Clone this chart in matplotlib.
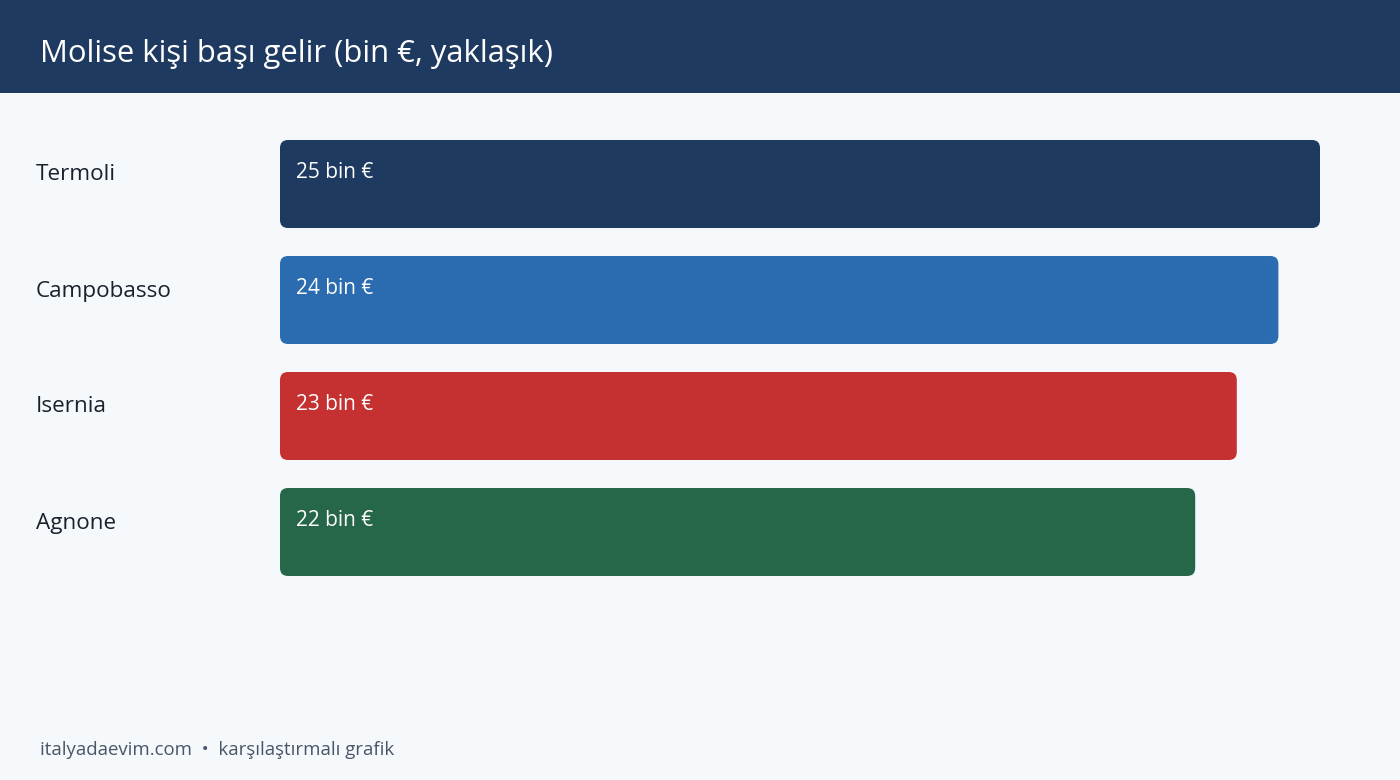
import matplotlib.pyplot as plt
from matplotlib.patches import FancyBboxPatch, Rectangle

plt.rcParams['font.family'] = ['Open Sans', 'DejaVu Sans']

# data
cities = ['Termoli', 'Campobasso', 'Isernia', 'Agnone']
income = [25, 24, 23, 22]
value_labels = ['25 bin €', '24 bin €', '23 bin €', '22 bin €']
colors = ['#1f3a60', '#2b6cb0', '#c53030', '#276749']

W, H = 1400, 780
bg = '#f5f9fc'

fig = plt.figure(figsize=(W / 100, H / 100), dpi=100, facecolor=bg)

# header band
fig.patches.append(Rectangle((0, (H - 93) / H), 1, 93 / H, transform=fig.transFigure,
                             facecolor='#1f3a60', edgecolor='none', zorder=0))
fig.text(40 / W, 1 - 54 / H, 'Molise kişi başı gelir (bin €, yaklaşık)', color='white',
         fontsize=22.3, va='center', ha='left')

# bars area: x=0 at 280px, 41.6 px per unit; slots of 116 px starting at 126px
px_per_unit = 41.6
ax_left, ax_width = 280, 1100
ax_top, ax_bottom = 126, 590
ax = fig.add_axes([ax_left / W, 1 - ax_bottom / H, ax_width / W, (ax_bottom - ax_top) / H])
ax.set_facecolor(bg)
ax.set_xlim(0, ax_width / px_per_unit)
ax.set_ylim(len(cities) - 0.5, -0.5)
ax.axis('off')

bar_h = 88 / 116
radius = 8 / px_per_unit
aspect = px_per_unit / 116

for i, (name, val, lab, c) in enumerate(zip(cities, income, value_labels, colors)):
    top = i - bar_h / 2
    ax.add_patch(FancyBboxPatch((0, top), val, bar_h,
                                boxstyle=f'round,pad=0,rounding_size={radius}',
                                mutation_aspect=aspect, facecolor=c, edgecolor='none'))
    ax.annotate(lab, xy=(0, top), xytext=(16, -33), textcoords='offset pixels',
                color='white', fontsize=15, va='center', ha='left')
    ax.annotate(name, xy=(0, top), xytext=(-244, -35), textcoords='offset pixels',
                color='#1a202c', fontsize=16.2, va='center', ha='left', annotation_clip=False)

fig.text(40 / W, 1 - 750 / H, 'italyadaevim.com  •  karşılaştırmalı grafik', color='#4a5568',
         fontsize=13.4, va='center', ha='left')

fig.savefig('out.png', dpi=100, facecolor=bg)
